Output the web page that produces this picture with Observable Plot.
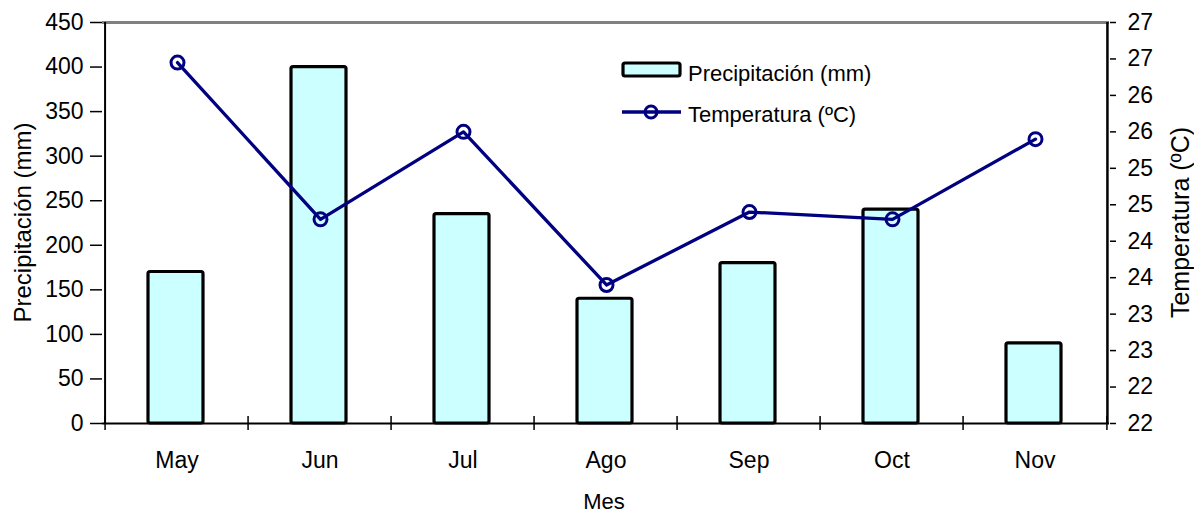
<!DOCTYPE html>
<html>
<head>
<meta charset="utf-8">
<script src="https://cdn.jsdelivr.net/npm/d3@7"></script>
<script src="https://cdn.jsdelivr.net/npm/@observablehq/plot@0.6"></script>
<style>
  html, body { margin: 0; padding: 0; background: #fff; }
  #chart { position: relative; width: 1194px; height: 514px; }
</style>
</head>
<body>
<div id="chart"></div>
<script>
// ---- Data ----
const months = ["May", "Jun", "Jul", "Ago", "Sep", "Oct", "Nov"];
const precipitation = [170, 400, 235, 140, 180, 240, 90];
const temperature = [26.45, 24.3, 25.5, 23.4, 24.4, 24.3, 25.4];
const precipTicks = [0, 50, 100, 150, 200, 250, 300, 350, 400, 450];
const tempTicks = [21.5, 22, 22.5, 23, 23.5, 24, 24.5, 25, 25.5, 26, 26.5, 27];

const rows = months.map((m, i) => ({month: m, p: precipitation[i], t: temperature[i]}));

const W = 1194, H = 514;
const mL = 102, mR = 85, mT = 22, mB = 91;
const bw = (W - mL - mR) / months.length;
const font = "'Liberation Sans', Arial, Helvetica, sans-serif";

const baseStyle = {position: "absolute", left: "0px", top: "0px", fontFamily: font, fontSize: "23px", color: "#000", overflow: "visible"};

// ---- Plot 1: bars + left axis + category axis ----
const p1 = Plot.plot({
  width: W, height: H,
  marginLeft: mL, marginRight: mR, marginTop: mT, marginBottom: mB,
  style: {...baseStyle, background: "white"},
  x: {type: "band", domain: months, padding: 0},
  y: {domain: [0, 450]},
  marks: [
    Plot.barY(rows, {x: "month", y: "p", fill: "#CCFFFF", stroke: "#000", strokeWidth: 3.2, insetLeft: 43, insetRight: 45, rx: 2}),
    Plot.ruleY([450], {stroke: "#808080", strokeWidth: 3}),
    Plot.ruleY([0], {stroke: "#000", strokeWidth: 2}),
    Plot.ruleX([months[0]], {dx: -bw / 2, stroke: "#000", strokeWidth: 2}),
    Plot.ruleX(months, {dx: -bw / 2, stroke: "#000", strokeWidth: 1.5, insetTop: (H - mT - mB) - 7, insetBottom: -7}),
    Plot.ruleX([months[months.length - 1]], {dx: bw / 2, stroke: "#000", strokeWidth: 1.5, insetTop: (H - mT - mB) - 7, insetBottom: -7}),
    Plot.axisY({ticks: precipTicks, tickSize: 12, tickPadding: 7, strokeWidth: 1.5, label: null, fill: "#000"}),
    Plot.axisX({tickSize: 0, tickPadding: 28, label: null, fill: "#000"})
  ]
});

// ---- Plot 2: temperature line + right axis ----
const p2 = Plot.plot({
  width: W, height: H,
  marginLeft: mL, marginRight: mR, marginTop: mT, marginBottom: mB,
  style: {...baseStyle, background: "transparent"},
  x: {type: "point", domain: months, padding: 0.5, axis: null},
  y: {domain: [21.5, 27]},
  marks: [
    Plot.line(rows, {x: "month", y: "t", stroke: "#000080", strokeWidth: 3.3}),
    Plot.dot(rows, {x: "month", y: "t", r: 6.5, stroke: "#000080", strokeWidth: 3, fill: "none"}),
    Plot.ruleX([months[months.length - 1]], {dx: bw / 2, stroke: "#000", strokeWidth: 2.5}),
    Plot.axisY({anchor: "right", ticks: tempTicks, tickFormat: d => String(Math.round(d)), tickSize: 6, tickPadding: 12, strokeWidth: 1.5, label: null, fill: "#000"})
  ]
});

const chart = document.getElementById("chart");
chart.appendChild(p1);
chart.appendChild(p2);

// ---- Titles ----
const s1 = d3.select(p1);
s1.append("text")
  .attr("transform", `translate(22,${mT + (H - mT - mB) / 2}) rotate(-90)`)
  .attr("text-anchor", "middle").attr("dominant-baseline", "central")
  .attr("font-size", 24).attr("fill", "#000").text("Precipitación (mm)");
s1.append("text")
  .attr("x", 604).attr("y", 509)
  .attr("text-anchor", "middle")
  .attr("font-size", 22).attr("fill", "#000").text("Mes");

const s2 = d3.select(p2);
s2.append("text")
  .attr("transform", `translate(1180,${mT + (H - mT - mB) / 2}) rotate(-90)`)
  .attr("text-anchor", "middle").attr("dominant-baseline", "central")
  .attr("font-size", 25).attr("fill", "#000").text("Temperatura (ºC)");

// ---- Legend ----
const lg = s2.append("g").attr("font-size", 22).attr("fill", "#000").attr("text-anchor", "start");
lg.append("rect").attr("x", 623).attr("y", 63).attr("width", 57).attr("height", 13).attr("rx", 2)
  .attr("fill", "#CCFFFF").attr("stroke", "#000").attr("stroke-width", 3.2);
lg.append("text").attr("x", 688).attr("y", 81).attr("text-anchor", "start").text("Precipitación (mm)");
lg.append("line").attr("x1", 622).attr("x2", 681).attr("y1", 112).attr("y2", 112)
  .attr("stroke", "#000080").attr("stroke-width", 3.3);
lg.append("circle").attr("cx", 651).attr("cy", 112).attr("r", 6)
  .attr("fill", "none").attr("stroke", "#000080").attr("stroke-width", 3);
lg.append("text").attr("x", 688).attr("y", 122).attr("text-anchor", "start").text("Temperatura (ºC)");
</script>
</body>
</html>
